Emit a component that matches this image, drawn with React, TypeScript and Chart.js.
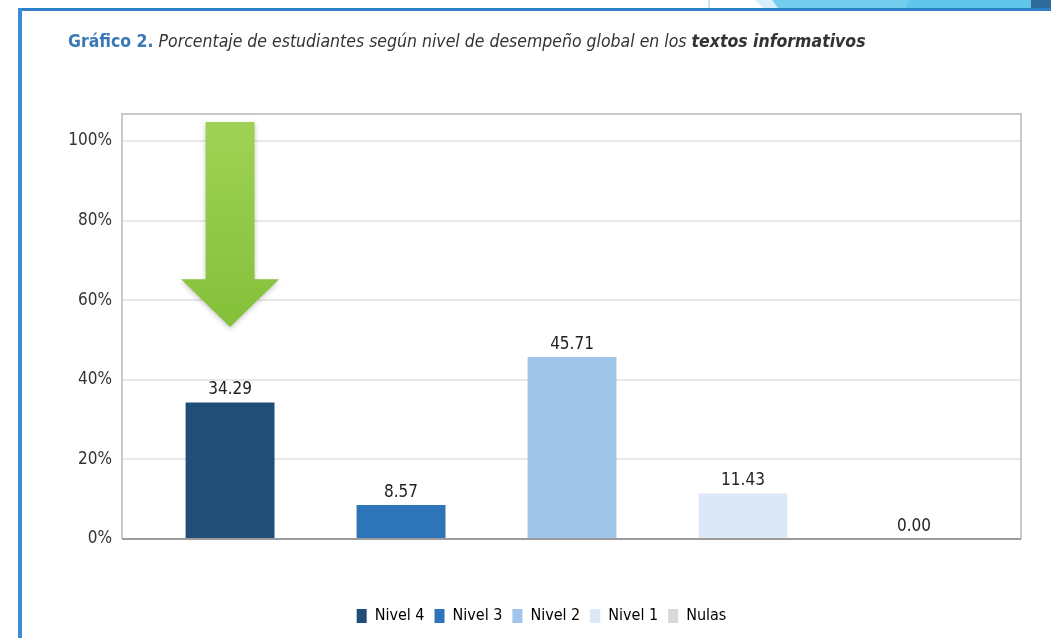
import React, { useEffect, useRef } from "react";
import { Chart, registerables } from "chart.js";

Chart.register(...registerables);

const categories = ["Nivel 4", "Nivel 3", "Nivel 2", "Nivel 1", "Nulas"];
const values = [34.29, 8.57, 45.71, 11.43, 0.0];
const colors = ["#214e77", "#2e74b8", "#9fc5e8", "#dbe8f6", "#d9d9d9"];
const yTickValues = [0, 20, 40, 60, 80, 100];
// annotation arrow (in data units): points at first category
const arrowCategory = 0;
const arrowTopValue = 104.8;
const arrowHeadBaseValue = 65.3;
const arrowTipValue = 53.3;

const labelFont = "'DejaVu Sans Condensed', 'DejaVu Sans', sans-serif";
const narrowFont = "'Liberation Sans Narrow', 'DejaVu Sans Condensed', sans-serif";

const framePlugin = {
  id: "frame",
  beforeDatasetsDraw(chart: any) {
    const { ctx, chartArea: a } = chart;
    ctx.save();
    ctx.lineWidth = 2;
    ctx.strokeStyle = "#c9c9c9";
    ctx.beginPath();
    ctx.moveTo(a.left, a.bottom);
    ctx.lineTo(a.left, a.top);
    ctx.lineTo(a.right, a.top);
    ctx.lineTo(a.right, a.bottom);
    ctx.stroke();
    ctx.strokeStyle = "#9c9c9c";
    ctx.beginPath();
    ctx.moveTo(a.left, a.bottom);
    ctx.lineTo(a.right, a.bottom);
    ctx.stroke();
    ctx.restore();
  },
};

const valueLabelPlugin = {
  id: "valueLabels",
  afterDatasetsDraw(chart: any) {
    const { ctx } = chart;
    const meta = chart.getDatasetMeta(0);
    ctx.save();
    ctx.font = `17px ${labelFont}`;
    ctx.fillStyle = "#222";
    ctx.textAlign = "center";
    ctx.textBaseline = "bottom";
    meta.data.forEach((bar: any, i: number) => {
      ctx.fillText(values[i].toFixed(2), bar.x, bar.y - 4);
    });
    ctx.restore();
  },
};

const arrowPlugin = {
  id: "arrow",
  afterDatasetsDraw(chart: any) {
    const { ctx } = chart;
    const xs = chart.scales.x;
    const ys = chart.scales.y;
    const cx = xs.getPixelForValue(arrowCategory);
    const top = ys.getPixelForValue(arrowTopValue);
    const base = ys.getPixelForValue(arrowHeadBaseValue);
    const tip = ys.getPixelForValue(arrowTipValue);
    const shaft = 24.5;
    const head = 49;
    ctx.save();
    const g = ctx.createLinearGradient(0, top, 0, tip);
    g.addColorStop(0, "#9fd254");
    g.addColorStop(1, "#84c03a");
    ctx.fillStyle = g;
    ctx.shadowColor = "rgba(0,0,0,0.22)";
    ctx.shadowBlur = 5;
    ctx.shadowOffsetY = 2;
    ctx.beginPath();
    ctx.moveTo(cx - shaft, top);
    ctx.lineTo(cx + shaft, top);
    ctx.lineTo(cx + shaft, base);
    ctx.lineTo(cx + head, base);
    ctx.lineTo(cx, tip);
    ctx.lineTo(cx - head, base);
    ctx.lineTo(cx - shaft, base);
    ctx.closePath();
    ctx.fill();
    ctx.restore();
  },
};

function ChartView() {
  const ref = useRef<HTMLCanvasElement | null>(null);
  useEffect(() => {
    if (!ref.current) return;
    const chart = new Chart(ref.current, {
      type: "bar",
      data: {
        datasets: [
          {
            label: "Porcentaje",
            data: values.map((v, i) => ({ x: i, y: v })),
            backgroundColor: colors,
            borderWidth: 0,
            barPercentage: 0.52,
            categoryPercentage: 1,
          },
        ],
      },
      options: {
        animation: false,
        responsive: true,
        maintainAspectRatio: false,
        layout: { padding: { left: 62, right: 30, top: 114, bottom: 4 } },
        scales: {
          x: {
            type: "linear",
            min: -0.632,
            max: 4.626,
            offset: false,
            display: true,
            afterBuildTicks(scale: any) {
              scale.ticks = categories.map((_, i) => ({ value: i }));
            },
            grid: { display: false, offset: false },
            border: { display: false },
            ticks: { display: false },
            afterFit(scale: any) {
              scale.height = 59;
            },
          },
          y: {
            min: 0,
            max: 106.8,
            afterBuildTicks(scale: any) {
              scale.ticks = yTickValues.map((v) => ({ value: v }));
            },
            afterFit(scale: any) {
              scale.width = 60;
            },
            grid: { color: "#e8e8e8", lineWidth: 2, drawTicks: false },
            border: { display: false },
            ticks: {
              padding: 10,
              color: "#333",
              font: { family: labelFont, size: 17 },
              callback: (v: any) => `${v}%`,
            },
          },
        },
        plugins: {
          tooltip: { enabled: false },
          legend: {
            position: "bottom",
            labels: {
              boxWidth: 10,
              boxHeight: 14,
              padding: 10,
              color: "#333",
              font: { family: narrowFont, size: 16 },
              generateLabels: () =>
                categories.map((c, i) => ({
                  text: c,
                  fillStyle: colors[i],
                  strokeStyle: colors[i],
                  lineWidth: 0,
                  hidden: false,
                  index: i,
                  datasetIndex: 0,
                })),
            },
          },
        },
      },
      plugins: [framePlugin, valueLabelPlugin, arrowPlugin],
    } as any);
    return () => chart.destroy();
  }, []);
  return <canvas ref={ref} />;
}

export default function App() {
  return (
    <div style={{ position: "absolute", left: 0, top: 0, width: 1051, height: 638, background: "#fff", overflow: "hidden" }}>
      <div style={{ position: "absolute", inset: 0 }}>
        <ChartView />
      </div>
      {/* slide decorations */}
      <div style={{ position: "absolute", left: 708, top: 0, width: 2, height: 9, background: "#cfe3ee" }} />
      <div style={{ position: "absolute", left: 755, top: 0, width: 300, height: 8, background: "#d8f0fa", clipPath: "polygon(0 0, 100% 0, 100% 100%, 8px 100%)" }} />
      <div style={{ position: "absolute", left: 772, top: 0, width: 280, height: 8, background: "#74cfee", clipPath: "polygon(0 0, 100% 0, 100% 100%, 6px 100%)" }} />
      <div style={{ position: "absolute", left: 906, top: 0, width: 130, height: 8, background: "#62c6ea", clipPath: "polygon(3px 0, 100% 0, 100% 100%, 0 100%)" }} />
      <div style={{ position: "absolute", left: 1031, top: 0, width: 20, height: 8, background: "#2f6c9c" }} />
      <div style={{ position: "absolute", left: 18, top: 8, width: 1033, height: 3, background: "#2f80c9" }} />
      <div style={{ position: "absolute", left: 18, top: 8, width: 4, height: 630, background: "#3b8cd6" }} />
      <div
        style={{
          position: "absolute",
          left: 68,
          top: 31,
          fontFamily: narrowFont,
          fontSize: 17.5,
          color: "#333",
          whiteSpace: "nowrap",
          letterSpacing: 0,
        }}
      >
        <span style={{ color: "#3a78b5", fontWeight: 600 }}>Gráfico 2.</span>
        <span style={{ fontStyle: "italic" }}> Porcentaje de estudiantes según nivel de desempeño global en los </span>
        <span style={{ fontStyle: "italic", fontWeight: 700 }}>textos informativos</span>
      </div>
    </div>
  );
}
